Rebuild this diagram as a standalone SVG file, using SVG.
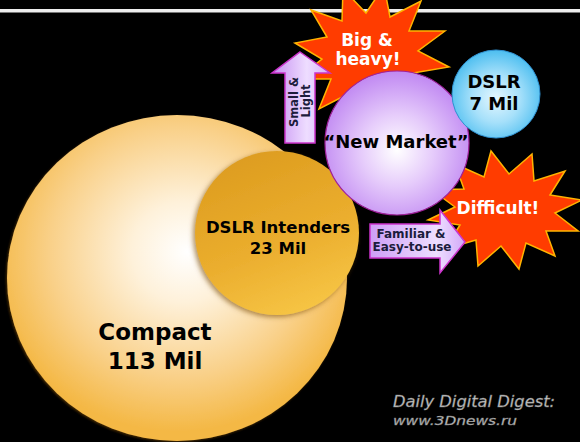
<svg xmlns="http://www.w3.org/2000/svg" width="580" height="442" viewBox="0 0 580 442">
<defs>
<radialGradient id="gCompact" cx="0.5" cy="0.42" r="0.55" fx="0.53" fy="0.42">
<stop offset="0" stop-color="#FFFFFF"/>
<stop offset="0.28" stop-color="#FEF1DA"/>
<stop offset="0.7" stop-color="#F9D088"/>
<stop offset="1" stop-color="#F4B845"/>
</radialGradient>
<linearGradient id="gIntenders" x1="0.2" y1="0" x2="0.6" y2="1">
<stop offset="0" stop-color="#DC9B1E"/>
<stop offset="0.6" stop-color="#EBAE2E"/>
<stop offset="1" stop-color="#F6C444"/>
</linearGradient>
<radialGradient id="gNew" cx="0.5" cy="0.55" r="0.55">
<stop offset="0" stop-color="#FFFFFF"/>
<stop offset="0.45" stop-color="#E6CCFB"/>
<stop offset="1" stop-color="#C088F2"/>
</radialGradient>
<radialGradient id="gDslr" cx="0.5" cy="0.55" r="0.55">
<stop offset="0" stop-color="#E4F7FF"/>
<stop offset="0.5" stop-color="#A6E0FA"/>
<stop offset="1" stop-color="#4CBEF0"/>
</radialGradient>
<linearGradient id="gArrowV" x1="0" y1="0" x2="1" y2="0">
<stop offset="0" stop-color="#C68EF2"/>
<stop offset="0.6" stop-color="#EEDDFF"/>
<stop offset="1" stop-color="#D6B0FA"/>
</linearGradient>
<linearGradient id="gArrowH" x1="0" y1="0" x2="1" y2="0">
<stop offset="0" stop-color="#CE9EF6"/>
<stop offset="0.7" stop-color="#EEDFFF"/>
<stop offset="1" stop-color="#D2A8F8"/>
</linearGradient>
<filter id="shadow" x="-20%" y="-20%" width="140%" height="140%">
<feDropShadow dx="-2" dy="2" stdDeviation="2.5" flood-color="#7a4a00" flood-opacity="0.6"/>
</filter>
<filter id="shadow2" x="-10%" y="-10%" width="120%" height="120%">
<feDropShadow dx="-1" dy="1" stdDeviation="1.2" flood-color="#6a4000" flood-opacity="0.7"/>
</filter>
</defs>
<style>
.bold{font-family:"DejaVu Sans","Liberation Sans",sans-serif;font-weight:bold;text-anchor:middle;}
.dark{fill:#000000;}
.navy{fill:#1C1C3C;}
.white{fill:#FFFFFF;}
.burst{fill:#FF3C00;stroke:#FFB400;stroke-width:1.5;stroke-linejoin:miter;}
.arrow{stroke:#CC33CC;stroke-width:1.5;}
.wm{font-family:"DejaVu Sans",sans-serif;font-style:italic;fill:#C8C8C8;stroke:#777777;stroke-width:0.4;}
</style>
<rect x="0" y="0" width="580" height="442" fill="#000000"/>
<rect x="0" y="9" width="580" height="3.5" fill="#EDEDED"/>

<g id="compact">
<ellipse cx="177" cy="278" rx="170" ry="163" fill="url(#gCompact)" filter="url(#shadow2)"/>
<text class="bold dark" x="155" y="340" font-size="23">Compact</text>
<text class="bold dark" x="155" y="369" font-size="23">113 Mil</text>
</g>

<g id="dslr-intenders">
<circle cx="277" cy="233" r="82" fill="url(#gIntenders)" filter="url(#shadow)"/>
<text class="bold dark" x="278" y="233" font-size="16.5">DSLR Intenders</text>
<text class="bold dark" x="278" y="254" font-size="16.5">23 Mil</text>
</g>

<g id="big-heavy">
<polygon class="burst" points="445,31 418,51 449,67 413,73 431,100 398,89 397,121 374,97 356,124 350,93 319,109 331,79 297,79 322,59 295,43 327,37 311,10 342,21 343,-11 366,13 384,-14 390,17 421,1 409,31"/>
<text class="bold white" x="367" y="46" font-size="17">Big &amp;</text>
<text class="bold white" x="368" y="65" font-size="17">heavy!</text>
</g>

<g id="difficult">
<polygon class="burst" points="582,200 555,213 578,231 546,231 555,256 526,243 519,269 501,246 478,266 476,240 445,249 460,225 428,220 455,207 432,190 464,189 455,164 484,177 491,151 509,174 532,154 534,181 565,171 550,195"/>
<text class="bold white" x="498" y="214" font-size="17">Difficult!</text>
</g>

<g id="connectors">
<g id="small-light">
<polygon class="arrow" fill="url(#gArrowV)" points="300,52 330,73 315,73 315,143 285,143 285,73 272,73"/>
<text class="bold navy" font-size="11.5" transform="translate(298,102) rotate(-90)" x="0" y="0">Small &amp;</text>
<text class="bold navy" font-size="11.5" transform="translate(310,101) rotate(-90)" x="0" y="0">Light</text>
</g>
<g id="familiar">
<polygon class="arrow" fill="url(#gArrowH)" points="370,224 440,224 440,210 465,242 440,273 440,258 370,258"/>
<text class="bold navy" x="411" y="238" font-size="12">Familiar &amp;</text>
<text class="bold navy" x="412" y="250.5" font-size="12">Easy-to-use</text>
</g>
</g>

<g id="new-market">
<circle cx="397" cy="143" r="72" fill="url(#gNew)" stroke="#A0209A" stroke-width="1.2"/>
<text class="bold dark" x="396" y="148" font-size="18">“New Market”</text>
</g>

<g id="dslr">
<circle cx="496" cy="94" r="44" fill="url(#gDslr)" stroke="#2F8FCF" stroke-width="1"/>
<text class="bold dark" x="494" y="88" font-size="18">DSLR</text>
<text class="bold dark" x="494" y="110" font-size="18">7 Mil</text>
</g>

<g id="watermark">
<text class="wm" x="393" y="407" font-size="15" textLength="162" lengthAdjust="spacingAndGlyphs">Daily Digital Digest:</text>
<text class="wm" x="393" y="425" font-size="13" textLength="124" lengthAdjust="spacingAndGlyphs">www.3Dnews.ru</text>
</g>
</svg>
